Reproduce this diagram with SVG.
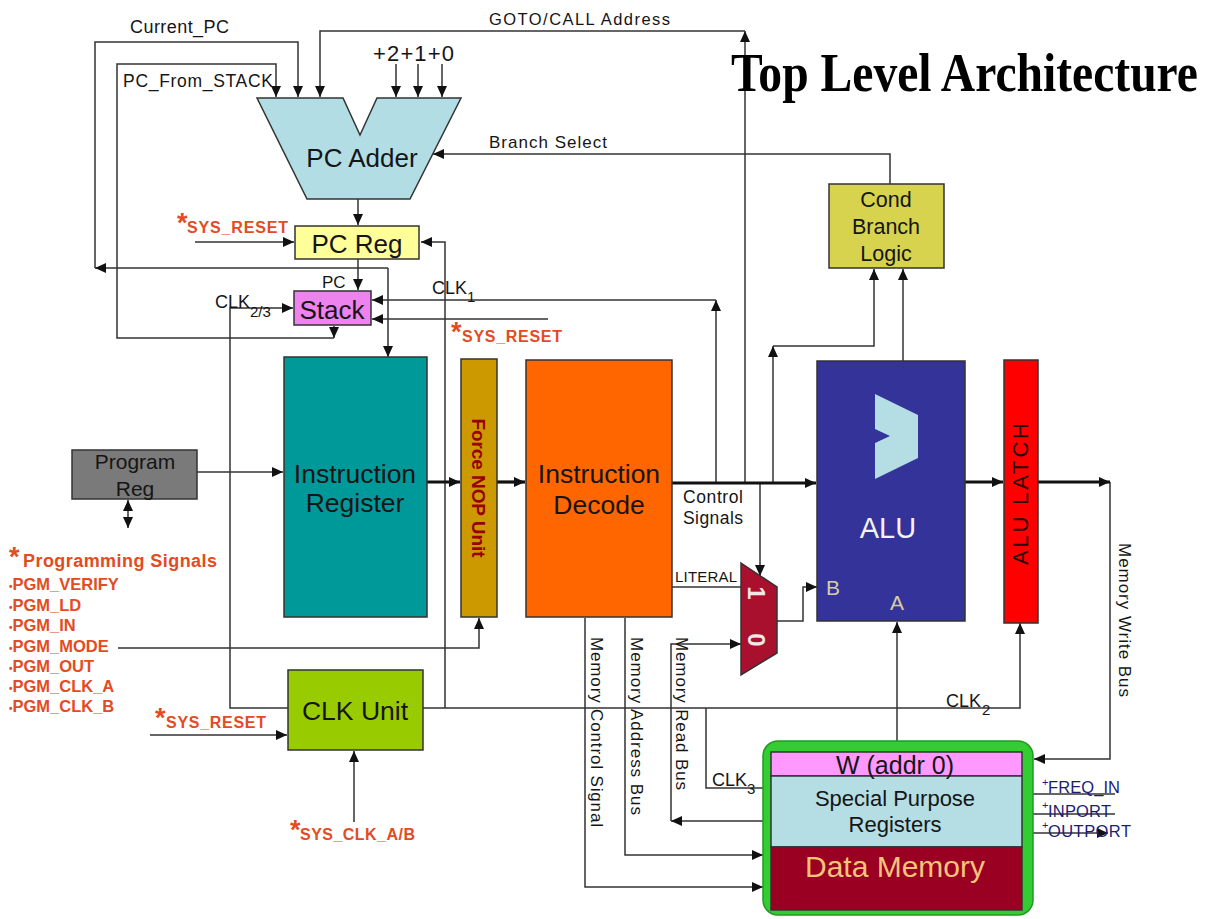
<svg xmlns="http://www.w3.org/2000/svg" width="1206" height="919" viewBox="0 0 1206 919">
  <defs>
    <marker id="ah" viewBox="0 0 11 10" refX="11" refY="5" markerWidth="11" markerHeight="10" markerUnits="userSpaceOnUse" orient="auto-start-reverse">
      <path d="M0,0 L11,5 L0,10 z" fill="#111"/>
    </marker>
    <style>
      .wire path { fill: none; stroke: #333; stroke-width: 1.5; }
      .wire path.bus { stroke: #111; stroke-width: 3.2; }
      .box { stroke: #333; stroke-width: 1.5; }
      .t { font-family: "Liberation Sans", Arial, sans-serif; fill: #151515; }
      .c { text-anchor: middle; }
      .red { font-family: "Liberation Sans", Arial, sans-serif; fill: #e34b23; font-weight: bold; }
      .ast { font-family: "Liberation Sans", Arial, sans-serif; fill: #e34b23; font-weight: bold; font-size: 27px; }
      .port { font-family: "Liberation Sans", Arial, sans-serif; fill: #1c1c78; font-size: 16.5px; }
      .sup { font-family: "Liberation Sans", Arial, sans-serif; fill: #1c1c78; font-size: 11px; }
    </style>
  </defs>

  <rect width="1206" height="919" fill="#ffffff"/>

  <!-- wiring -->
  <g id="connectors" class="wire">
    <path d="M95,268 V42 H298 V97" marker-end="url(#ah)"/>
    <path d="M388,268 H95" marker-end="url(#ah)"/>
    <path d="M388,268 V357" marker-end="url(#ah)"/>
    <path d="M334,338 H117 V64 H276 V97" marker-end="url(#ah)"/>
    <path d="M334,326 V338" marker-end="url(#ah)"/>
    <path d="M745,483 V31" marker-end="url(#ah)"/>
    <path d="M745,31 H320 V97" marker-end="url(#ah)"/>
    <path d="M396,64 V97" marker-end="url(#ah)"/>
    <path d="M418,64 V97" marker-end="url(#ah)"/>
    <path d="M442,64 V97" marker-end="url(#ah)"/>
    <path d="M890,184 V154 H433" marker-end="url(#ah)"/>
    <path d="M358,199 V225" marker-end="url(#ah)"/>
    <path d="M195,242 H294" marker-end="url(#ah)"/>
    <path d="M445,708 V242 H421" marker-end="url(#ah)"/>
    <path d="M358,259 V290" marker-end="url(#ah)"/>
    <path d="M288,708 H230 V308 H293" marker-end="url(#ah)"/>
    <path d="M716,483 V300" marker-end="url(#ah)"/>
    <path d="M716,300 H372" marker-end="url(#ah)"/>
    <path d="M548,319 H372" marker-end="url(#ah)"/>
    <path d="M197,472 H283" marker-end="url(#ah)"/>
    <path d="M128,500 V528" marker-start="url(#ah)" marker-end="url(#ah)"/>
    <path d="M118,648 H479 V618" marker-end="url(#ah)"/>
    <path d="M423,708 H1020 V623" marker-end="url(#ah)"/>
    <path d="M150,735 H287" marker-end="url(#ah)"/>
    <path d="M354,822 V751" marker-end="url(#ah)"/>
    <path d="M585,618 V887 H763" marker-end="url(#ah)"/>
    <path d="M625,618 V855 H763" marker-end="url(#ah)"/>
    <path d="M763,821 H671" marker-end="url(#ah)"/>
    <path d="M671,821 V644 H741" marker-end="url(#ah)"/>
    <path d="M706,708 V788 H763"/>
    <path d="M672,587 H741"/>
    <path d="M777,621 H803 V587 H817" marker-end="url(#ah)"/>
    <path d="M760,483 V576" marker-end="url(#ah)"/>
    <path d="M773,483 V346" marker-end="url(#ah)"/>
    <path d="M773,346 H874 V269" marker-end="url(#ah)"/>
    <path d="M903,361 V269" marker-end="url(#ah)"/>
    <path d="M897,753 V622" marker-end="url(#ah)"/>
    <path d="M1110,482 V759 H1034" marker-end="url(#ah)"/>
    <path d="M1115,794 H1022" marker-end="url(#ah)"/>
    <path d="M1115,814 H1022" marker-end="url(#ah)"/>
    <path d="M1022,833 H1108" marker-end="url(#ah)"/>
    <path class="bus" d="M427,482 H460" marker-end="url(#ah)"/>
    <path class="bus" d="M497,482 H525" marker-end="url(#ah)"/>
    <path class="bus" d="M672,483 H816" marker-end="url(#ah)"/>
    <path class="bus" d="M965,482 H1003" marker-end="url(#ah)"/>
    <path class="bus" d="M1038,482 H1110" marker-end="url(#ah)"/>
  </g>

  <!-- signal labels -->
  <g id="labels">
    <text class="t" x="130" y="33" font-size="18" textLength="99">Current_PC</text>
    <text class="t" x="123" y="87" font-size="17.5" textLength="150">PC_From_STACK</text>
    <text class="t" x="489" y="25" font-size="16.5" textLength="181">GOTO/CALL Address</text>
    <text class="t" x="373" y="61" font-size="22" textLength="81">+2+1+0</text>
    <text class="t" x="489" y="148" font-size="17" textLength="118">Branch Select</text>
    <text class="t" x="322" y="288" font-size="17">PC</text>
    <text class="t" x="215" y="308" font-size="18">CLK<tspan font-size="15" x="250" y="317">2/3</tspan></text>
    <text class="t" x="432" y="294" font-size="18">CLK<tspan font-size="15" x="467" y="302">1</tspan></text>
    <text class="t" x="946" y="707" font-size="18">CLK<tspan font-size="15" x="982" y="715">2</tspan></text>
    <text class="t" x="712" y="786" font-size="18">CLK<tspan font-size="15" x="747" y="794">3</tspan></text>
    <text class="t" x="683" y="503" font-size="17.5" textLength="60">Control</text>
    <text class="t" x="683" y="524" font-size="17.5" textLength="60">Signals</text>
    <text class="t" x="675" y="582" font-size="15" textLength="62">LITERAL</text>
    <text class="t" transform="translate(591,637) rotate(90)" font-size="17" textLength="190">Memory Control Signal</text>
    <text class="t" transform="translate(631,637) rotate(90)" font-size="17" textLength="178">Memory Address Bus</text>
    <text class="t" transform="translate(676,637) rotate(90)" font-size="17" textLength="153">Memory Read Bus</text>
    <text class="t" transform="translate(1119,543) rotate(90)" font-size="17" textLength="154">Memory Write Bus</text>

    <text class="ast" x="177" y="232">*</text>
    <text class="red" x="187" y="233" font-size="16" textLength="101">SYS_RESET</text>
    <text class="ast" x="451" y="341">*</text>
    <text class="red" x="462" y="342" font-size="16" textLength="100">SYS_RESET</text>
    <text class="ast" x="155" y="727">*</text>
    <text class="red" x="166" y="728" font-size="16" textLength="100">SYS_RESET</text>
    <text class="ast" x="290" y="839">*</text>
    <text class="red" x="300" y="840" font-size="16" textLength="115">SYS_CLK_A/B</text>

    <text class="ast" x="9" y="566">*</text>
    <text class="red" x="23" y="567" font-size="18" textLength="194">Programming Signals</text>
    <g class="red" font-size="16.5">
      <text x="9" y="590"><tspan font-size="10">•</tspan>PGM_VERIFY</text>
      <text x="9" y="611"><tspan font-size="10">•</tspan>PGM_LD</text>
      <text x="9" y="631"><tspan font-size="10">•</tspan>PGM_IN</text>
      <text x="9" y="652"><tspan font-size="10">•</tspan>PGM_MODE</text>
      <text x="9" y="672"><tspan font-size="10">•</tspan>PGM_OUT</text>
      <text x="9" y="692"><tspan font-size="10">•</tspan>PGM_CLK_A</text>
      <text x="9" y="712"><tspan font-size="10">•</tspan>PGM_CLK_B</text>
    </g>

    <text class="sup" x="1042" y="786">+</text>
    <text class="port" x="1048" y="793" textLength="72">FREQ_IN</text>
    <text class="sup" x="1042" y="809">+</text>
    <text class="port" x="1048" y="817" textLength="63">INPORT</text>
    <text class="sup" x="1042" y="829">+</text>
    <text class="port" x="1048" y="837" textLength="83">OUTPORT</text>
  </g>

  <!-- heading, narrowed serif -->
  <text id="title" transform="translate(731,91) scale(0.85,1)" font-family="'Liberation Serif', 'Times New Roman', serif" font-weight="bold" font-size="56" fill="#000">Top Level Architecture</text>

  <g id="pc-adder">
    <polygon class="box" points="257,98 343,98 360,135 377,98 461,98 410,199 307,199" fill="#b3dde5"/>
    <text class="t c" x="362" y="167" font-size="26">PC Adder</text>
  </g>

  <g id="pc-reg">
    <rect class="box" x="295" y="226" width="124" height="33" fill="#ffff99"/>
    <text class="t c" x="357" y="253" font-size="26">PC Reg</text>
  </g>

  <g id="stack">
    <rect class="box" x="294" y="291" width="77" height="34" fill="#ee82ee"/>
    <text class="t c" x="332" y="319" font-size="26">Stack</text>
  </g>

  <g id="program-reg">
    <rect class="box" x="72" y="450" width="125" height="49" fill="#7a7a7a"/>
    <text class="t c" x="135" y="469" font-size="21">Program</text>
    <text class="t c" x="135" y="496" font-size="21">Reg</text>
  </g>

  <g id="instruction-register">
    <rect class="box" x="284" y="357" width="143" height="260" fill="#009999"/>
    <text class="t c" x="355" y="483" font-size="26.5">Instruction</text>
    <text class="t c" x="355" y="512" font-size="26.5">Register</text>
  </g>

  <g id="force-nop">
    <rect class="box" x="461" y="359" width="36" height="258" fill="#cc9900"/>
    <text transform="translate(472,488) rotate(90)" text-anchor="middle" font-family="'Liberation Sans', Arial, sans-serif" font-weight="bold" font-size="19" fill="#990000" textLength="139">Force NOP Unit</text>
  </g>

  <g id="instruction-decode">
    <rect class="box" x="526" y="360" width="146" height="257" fill="#ff6600"/>
    <text class="t c" x="599" y="483" font-size="26.5">Instruction</text>
    <text class="t c" x="599" y="514" font-size="26.5">Decode</text>
  </g>

  <g id="cond-branch">
    <rect class="box" x="829" y="184" width="115" height="84" fill="#d7d34e"/>
    <text class="t c" x="886" y="207" font-size="21.5">Cond</text>
    <text class="t c" x="886" y="234" font-size="21.5">Branch</text>
    <text class="t c" x="886" y="261" font-size="21.5">Logic</text>
  </g>

  <g id="mux">
    <polygon class="box" points="741,563 777,587 777,653 741,675" fill="#a8102e"/>
    <text transform="translate(748,593) rotate(90)" text-anchor="middle" font-family="'Liberation Sans', Arial, sans-serif" font-weight="bold" font-size="24" fill="#f4e6e6">1</text>
    <text transform="translate(748,640) rotate(90)" text-anchor="middle" font-family="'Liberation Sans', Arial, sans-serif" font-weight="bold" font-size="24" fill="#f4e6e6">0</text>
  </g>

  <g id="alu">
    <rect class="box" x="817" y="361" width="148" height="260" fill="#333399"/>
    <polygon points="875,394 918,415 918,458 875,479 875,443 890,436 875,429" fill="#b4dde4"/>
    <text class="c" x="888" y="538" font-family="'Liberation Sans', Arial, sans-serif" font-size="29" fill="#f2f2f2">ALU</text>
    <text x="826" y="595" font-family="'Liberation Sans', Arial, sans-serif" font-size="21" fill="#d6cca8">B</text>
    <text class="c" x="897" y="610" font-family="'Liberation Sans', Arial, sans-serif" font-size="21" fill="#d6cca8">A</text>
  </g>

  <g id="alu-latch">
    <rect class="box" x="1004" y="360" width="34" height="263" fill="#ff0000"/>
    <text transform="translate(1028,494) rotate(-90)" text-anchor="middle" font-family="'Liberation Sans', Arial, sans-serif" font-size="22" fill="#2a0505" textLength="142">ALU LATCH</text>
  </g>

  <g id="clk-unit">
    <rect class="box" x="288" y="670" width="135" height="80" fill="#99cc00"/>
    <text class="t c" x="355" y="720" font-size="26.5">CLK Unit</text>
  </g>

  <g id="data-memory">
    <rect x="763" y="741" width="270" height="174" rx="15" ry="15" fill="#33cc33" stroke="#229922" stroke-width="1.5"/>
    <rect class="box" x="771" y="752" width="251" height="24" fill="#ff99ff"/>
    <rect class="box" x="771" y="776" width="251" height="71" fill="#b4dde4"/>
    <rect class="box" x="771" y="847" width="251" height="63" fill="#990022"/>
    <text class="t c" x="895" y="774" font-size="25">W (addr 0)</text>
    <text class="t c" x="895" y="806" font-size="22">Special Purpose</text>
    <text class="t c" x="895" y="832" font-size="22">Registers</text>
    <text class="c" x="895" y="877" font-family="'Liberation Sans', Arial, sans-serif" font-size="30" fill="#f5c37a">Data Memory</text>
  </g>
</svg>
